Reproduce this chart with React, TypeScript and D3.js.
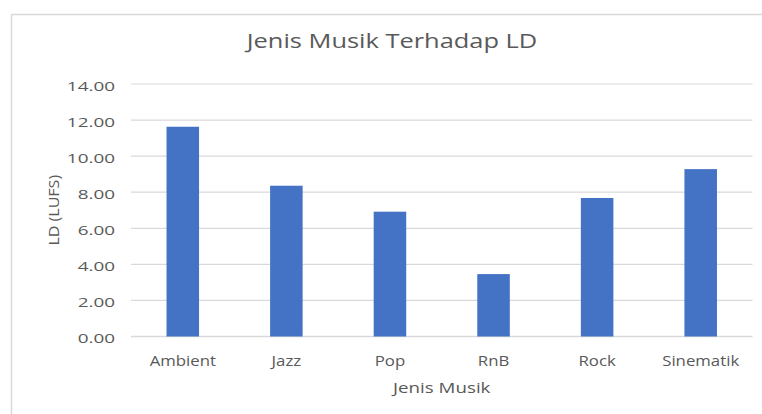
import React from "react";
import * as d3 from "d3";

const categories = ["Ambient", "Jazz", "Pop", "RnB", "Rock", "Sinematik"];
const ldValues = [11.63, 8.36, 6.92, 3.46, 7.68, 9.28];
const yTicks = [0, 2, 4, 6, 8, 10, 12, 14];

const W = 762;
const H = 414;
const FONT = "'Open Sans', 'Noto Sans', sans-serif";
const TEXT = "#595959";
const GRID = "#d9d9d9";
const BAR = "#4472c4";

type LabelProps = {
  x: number;
  y: number;
  sx: number;
  size: number;
  anchor?: "start" | "middle" | "end";
  rotate?: number;
  dy?: string;
  children: React.ReactNode;
};

// Text that is widened horizontally around its anchor point
function Label({ x, y, sx, size, anchor = "middle", rotate = 0, dy, children }: LabelProps) {
  const rot = rotate ? ` rotate(${rotate})` : "";
  return (
    <text
      transform={`translate(${x},${y})${rot} scale(${sx},1)`}
      textAnchor={anchor}
      fontSize={size}
      fill={TEXT}
      dy={dy}
    >
      {children}
    </text>
  );
}

export default function App() {
  const plot = { left: 131, right: 752.5, top: 84, bottom: 336.5 };

  const x = d3
    .scaleBand<string>()
    .domain(categories)
    .range([plot.left, plot.right])
    .paddingInner(0.686)
    .paddingOuter(0.343);

  const y = d3.scaleLinear().domain([0, 14]).range([plot.bottom, plot.top]);
  const fmt = d3.format(".2f");

  return (
    <div style={{ position: "fixed", left: 0, top: 0, width: W, height: H, background: "#fff" }}>
      <svg width={W} height={H} style={{ display: "block" }} fontFamily={FONT}>
        <rect x={0} y={0} width={W} height={H} fill="#fff" />
        {/* chart area frame */}
        <rect x={11.5} y={14.5} width={W + 10} height={H + 10} fill="#fff" stroke={GRID} strokeWidth={1.5} />

        {/* title */}
        <Label x={392} y={48} sx={1.27} size={20}>
          Jenis Musik Terhadap LD
        </Label>

        {/* gridlines and y tick labels */}
        {yTicks.map((t) => (
          <g key={t}>
            <line
              x1={plot.left}
              x2={plot.right}
              y1={y(t)}
              y2={y(t)}
              stroke={GRID}
              strokeWidth={t === 0 ? 1.5 : 1.2}
            />
            <Label x={115} y={y(t) + 2} sx={1.4} size={13.5} anchor="end" dy="0.35em">
              {fmt(t)}
            </Label>
          </g>
        ))}

        {/* bars */}
        {categories.map((c, i) => (
          <rect
            key={c}
            x={x(c)}
            y={y(ldValues[i])}
            width={x.bandwidth()}
            height={y(0) - y(ldValues[i])}
            fill={BAR}
          />
        ))}

        {/* x category labels */}
        {categories.map((c) => (
          <Label key={c} x={(x(c) as number) + x.bandwidth() / 2} y={365.5} sx={1.12} size={15}>
            {c}
          </Label>
        ))}

        {/* axis titles */}
        <Label x={(plot.left + plot.right) / 2} y={393} sx={1.25} size={15}>
          Jenis Musik
        </Label>
        <Label x={59} y={(plot.top + plot.bottom) / 2} rotate={-90} sx={1.07} size={15}>
          LD (LUFS)
        </Label>
      </svg>
    </div>
  );
}
